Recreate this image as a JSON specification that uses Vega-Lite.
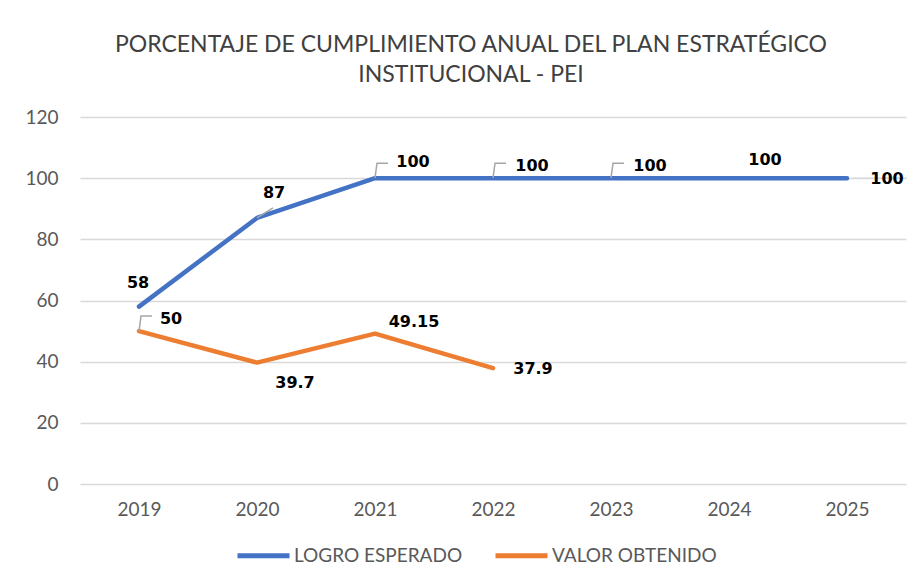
{
  "$schema": "https://vega.github.io/schema/vega-lite/v6.json",
  "autosize": "none",
  "width": 826,
  "height": 367,
  "padding": {"left": 80, "top": 117, "right": 15, "bottom": 92},
  "background": "white",
  "config": {"view": {"stroke": null}},
  "title": {
    "text": ["PORCENTAJE DE CUMPLIMIENTO ANUAL DEL PLAN ESTRATÉGICO", "INSTITUCIONAL - PEI"],
    "font": "Lato",
    "fontSize": 23,
    "fontWeight": "normal",
    "color": "#404040",
    "lineHeight": 30,
    "anchor": "middle",
    "dx": -22,
    "offset": 21
  },
  "data": {
    "values": [
      {"year": "2019", "series": "LOGRO ESPERADO", "value": 58},
      {"year": "2020", "series": "LOGRO ESPERADO", "value": 87},
      {"year": "2021", "series": "LOGRO ESPERADO", "value": 100},
      {"year": "2022", "series": "LOGRO ESPERADO", "value": 100},
      {"year": "2023", "series": "LOGRO ESPERADO", "value": 100},
      {"year": "2024", "series": "LOGRO ESPERADO", "value": 100},
      {"year": "2025", "series": "LOGRO ESPERADO", "value": 100},
      {"year": "2019", "series": "VALOR OBTENIDO", "value": 50},
      {"year": "2020", "series": "VALOR OBTENIDO", "value": 39.7},
      {"year": "2021", "series": "VALOR OBTENIDO", "value": 49.15},
      {"year": "2022", "series": "VALOR OBTENIDO", "value": 37.9}
    ]
  },
  "encoding": {
    "x": {
      "field": "year", "type": "ordinal", "title": null,
      "axis": {"labelAngle": 0, "domain": false, "ticks": false, "grid": false, "labelFont": "Lato", "labelFontSize": 19, "labelColor": "#595959", "labelPadding": 16}
    },
    "y": {
      "field": "value", "type": "quantitative", "title": null,
      "scale": {"domain": [0, 120], "nice": false},
      "axis": {"values": [0, 20, 40, 60, 80, 100, 120], "domain": false, "ticks": false, "gridColor": "#D9D9D9", "gridWidth": 1.3, "labelFont": "Lato", "labelFontSize": 19, "labelColor": "#595959", "labelPadding": 22}
    }
  },
  "layer": [
    {
      "mark": {"type": "line", "strokeWidth": 4.5, "strokeCap": "round", "strokeJoin": "round"},
      "encoding": {
        "color": {
          "field": "series", "type": "nominal",
          "scale": {"domain": ["LOGRO ESPERADO", "VALOR OBTENIDO"], "range": ["#4472C4", "#ED7D31"]},
          "legend": {"title": null, "orient": "none", "direction": "horizontal", "legendX": 155, "legendY": 410, "symbolType": "stroke", "symbolSize": 2704, "symbolStrokeWidth": 5, "labelFont": "Lato", "labelFontSize": 19, "labelColor": "#595959", "labelOffset": 2, "labelLimit": 400, "columnPadding": 22}
        }
      }
    },
    {
      "transform": [{"filter": "(datum.series=='LOGRO ESPERADO' && (datum.year=='2021' || datum.year=='2022' || datum.year=='2023')) || (datum.series=='VALOR OBTENIDO' && datum.year=='2019')"}],
      "mark": {"type": "point", "shape": "M0,0 L0.2,-1.5 L1.3,-1.5", "size": 400, "filled": false, "stroke": "#A6A6A6", "strokeWidth": 1.5, "opacity": 1}
    },
    {
      "transform": [{"filter": "datum.series=='LOGRO ESPERADO' && datum.year=='2020'"}],
      "mark": {"type": "point", "shape": "M0,0 L1.6,-1", "size": 400, "filled": false, "stroke": "#A6A6A6", "strokeWidth": 1.5, "opacity": 1}
    },
    {
      "transform": [{"filter": "datum.series=='LOGRO ESPERADO' && datum.year=='2025'"}],
      "mark": {"type": "point", "shape": "M0.5,0 L6,0", "size": 400, "filled": false, "stroke": "#D9D9D9", "strokeWidth": 1.5, "opacity": 1}
    },
    {
      "transform": [{"filter": "(datum.series=='LOGRO ESPERADO' && (datum.year=='2022' || datum.year=='2023')) || (datum.series=='VALOR OBTENIDO' && datum.year=='2021')"}],
      "mark": {"type": "text", "font": "DejaVu Sans", "fontWeight": "bold", "fontSize": 16, "color": "#000000", "baseline": "middle", "align": "center", "dx": 39, "dy": -12},
      "encoding": {"text": {"field": "value", "type": "quantitative"}}
    },
    {
      "transform": [{"filter": "datum.series=='LOGRO ESPERADO' && datum.year=='2021'"}],
      "mark": {"type": "text", "font": "DejaVu Sans", "fontWeight": "bold", "fontSize": 16, "color": "#000000", "baseline": "middle", "align": "center", "dx": 38, "dy": -16},
      "encoding": {"text": {"field": "value", "type": "quantitative"}}
    },
    {
      "transform": [{"filter": "(datum.series=='LOGRO ESPERADO' && datum.year=='2025') || (datum.series=='VALOR OBTENIDO' && datum.year=='2022')"}],
      "mark": {"type": "text", "font": "DejaVu Sans", "fontWeight": "bold", "fontSize": 16, "color": "#000000", "baseline": "middle", "align": "center", "dx": 40, "dy": 1},
      "encoding": {"text": {"field": "value", "type": "quantitative"}}
    },
    {
      "transform": [{"filter": "datum.series=='LOGRO ESPERADO' && datum.year=='2024'"}],
      "mark": {"type": "text", "font": "DejaVu Sans", "fontWeight": "bold", "fontSize": 16, "color": "#000000", "baseline": "middle", "align": "center", "dx": 36, "dy": -18},
      "encoding": {"text": {"field": "value", "type": "quantitative"}}
    },
    {
      "transform": [{"filter": "datum.series=='VALOR OBTENIDO' && datum.year=='2020'"}],
      "mark": {"type": "text", "font": "DejaVu Sans", "fontWeight": "bold", "fontSize": 16, "color": "#000000", "baseline": "middle", "align": "center", "dx": 38, "dy": 20},
      "encoding": {"text": {"field": "value", "type": "quantitative"}}
    },
    {
      "transform": [{"filter": "datum.series=='VALOR OBTENIDO' && datum.year=='2019'"}],
      "mark": {"type": "text", "font": "DejaVu Sans", "fontWeight": "bold", "fontSize": 16, "color": "#000000", "baseline": "middle", "align": "center", "dx": 32, "dy": -12},
      "encoding": {"text": {"field": "value", "type": "quantitative"}}
    },
    {
      "transform": [{"filter": "datum.series=='LOGRO ESPERADO' && datum.year=='2019'"}],
      "mark": {"type": "text", "font": "DejaVu Sans", "fontWeight": "bold", "fontSize": 16, "color": "#000000", "baseline": "middle", "align": "center", "dx": -1, "dy": -24},
      "encoding": {"text": {"field": "value", "type": "quantitative"}}
    },
    {
      "transform": [{"filter": "datum.series=='LOGRO ESPERADO' && datum.year=='2020'"}],
      "mark": {"type": "text", "font": "DejaVu Sans", "fontWeight": "bold", "fontSize": 16, "color": "#000000", "baseline": "middle", "align": "center", "dx": 17, "dy": -25},
      "encoding": {"text": {"field": "value", "type": "quantitative"}}
    }
  ]
}
